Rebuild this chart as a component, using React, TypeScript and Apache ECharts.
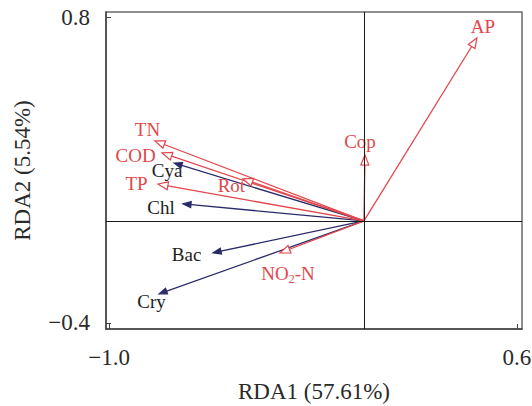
import React, { useEffect, useRef } from "react";
import * as echarts from "echarts";

// Environmental / red vectors
const envNames = ["AP", "Cop", "TN", "COD", "TP", "Rot", "NO{sub|2}-N"];
const envX = [0.443, 0.004, -0.82, -0.792, -0.808, -0.475, -0.329];
const envY = [0.718, 0.259, 0.314, 0.267, 0.145, 0.165, -0.125];

// Plankton / navy vectors
const bioNames = ["Cya", "Chl", "Bac", "Cry"];
const bioX = [-0.745, -0.71, -0.592, -0.804];
const bioY = [0.227, 0.067, -0.125, -0.286];

// Tick labels
const xTicks = [-1.0, 0.6];
const yTicks = [-0.4, 0.8];

// Label layout (pixel offsets from arrow tips)
const envLabelOffsets = [[6, -11], [-5, -13], [-7.5, -11.5], [-26.5, 2.5], [-21.5, -0.5], [-11.5, 7], [8, 21]];
const bioLabelOffsets = [[-7, 7], [-22, 3.5], [-26.5, 1.5], [-7.5, 8]];

const RED = "#e2474c";
const NAVY = "#2a2b6b";
const FONT = "'Liberation Serif', 'Times New Roman', serif";

const fmt = (v: number) => (v < 0 ? "\u2212" + Math.abs(v).toFixed(1) : v.toFixed(1));

function makeRender(names: string[], offsets: number[][], color: string, labelColor: string, open: boolean) {
  return (params: any, api: any) => {
    const x = api.value(0);
    const y = api.value(1);
    const i = params.dataIndex;
    const o = api.coord([0, 0]);
    const t = api.coord([x, y]);
    const dx = t[0] - o[0];
    const dy = t[1] - o[1];
    const L = Math.hypot(dx, dy) || 1;
    const ux = dx / L;
    const uy = dy / L;
    const headLen = open ? 10 : 8;
    const headW = open ? 4 : 3;
    const bx = t[0] - ux * headLen;
    const by = t[1] - uy * headLen;
    const nx = -uy;
    const ny = ux;
    const off = offsets[i] || [0, 0];
    return {
      type: "group",
      children: [
        {
          type: "line",
          shape: { x1: o[0], y1: o[1], x2: open ? bx : t[0] - ux * 3, y2: open ? by : t[1] - uy * 3 },
          style: { stroke: color, lineWidth: 1.3 },
        },
        {
          type: "polygon",
          shape: {
            points: [
              [t[0], t[1]],
              [bx + nx * headW, by + ny * headW],
              [bx - nx * headW, by - ny * headW],
            ],
          },
          style: { fill: open ? "#ffffff" : color, stroke: color, lineWidth: 1.2 },
        },
        {
          type: "text",
          x: t[0] + off[0],
          y: t[1] + off[1],
          style: {
            text: names[i],
            fill: labelColor,
            fontSize: 19,
            fontFamily: FONT,
            align: "center",
            verticalAlign: "middle",
            rich: {
              sub: { fontSize: 12, fontFamily: FONT, fill: labelColor, padding: [10, 0, 0, 0] },
            },
          },
        },
      ],
    };
  };
}

export default function App() {
  const ref = useRef<HTMLDivElement>(null);
  useEffect(() => {
    document.body.style.margin = "0";
    if (!ref.current) return;
    const chart = echarts.init(ref.current, undefined, { renderer: "svg" });
    const envData = envX.map((v, i) => [v, envY[i]]);
    const bioData = bioX.map((v, i) => [v, bioY[i]]);
    chart.setOption({
      animation: false,
      backgroundColor: "#ffffff",
      grid: {
        left: 106,
        top: 12,
        width: 416,
        height: 317,
        show: true,
        borderColor: "#6a6a6a",
        borderWidth: 1.5,
        outerBoundsMode: "none",
      },
      xAxis: {
        type: "value",
        min: -1.012,
        max: 0.62,
        name: "RDA1 (57.61%)",
        nameLocation: "middle",
        nameGap: 51,
        nameTextStyle: { fontSize: 23, fontFamily: FONT, color: "#2a2a2a" },
        axisLine: { show: true, onZero: false, lineStyle: { color: "#444", width: 1.5 } },
        axisTick: { show: true, inside: true, length: 5, customValues: xTicks, lineStyle: { color: "#444" } },
        axisLabel: {
          show: true,
          customValues: xTicks,
          formatter: fmt,
          margin: 17,
          fontSize: 23,
          fontFamily: FONT,
          color: "#2a2a2a",
        },
        splitLine: { show: false },
      },
      yAxis: {
        type: "value",
        min: -0.424,
        max: 0.82,
        name: "RDA2 (5.54%)",
        nameLocation: "middle",
        nameGap: 72,
        nameTextStyle: { fontSize: 23, fontFamily: FONT, color: "#2a2a2a" },
        axisLine: { show: true, onZero: false, lineStyle: { color: "#444", width: 1.5 } },
        axisTick: { show: true, inside: true, length: 5, customValues: yTicks, lineStyle: { color: "#444" } },
        axisLabel: {
          show: true,
          customValues: yTicks,
          formatter: fmt,
          margin: 16,
          fontSize: 23,
          fontFamily: FONT,
          color: "#2a2a2a",
        },
        splitLine: { show: false },
      },
      series: [
        {
          type: "scatter",
          data: [],
          silent: true,
          z: 1,
          markLine: {
            silent: true,
            symbol: ["none", "none"],
            label: { show: false },
            lineStyle: { color: "#1a1a1a", type: "solid", width: 1 },
            data: [{ xAxis: 0 }, { yAxis: 0 }],
          },
        },
        {
          type: "custom",
          z: 3,
          silent: true,
          data: bioData,
          renderItem: makeRender(bioNames, bioLabelOffsets, NAVY, "#1e1e1e", false),
        },
        {
          type: "custom",
          z: 4,
          silent: true,
          data: envData,
          renderItem: makeRender(envNames, envLabelOffsets, RED, RED, true),
        },
      ],
    });
    return () => chart.dispose();
  }, []);
  return <div ref={ref} style={{ width: 532, height: 406 }} />;
}
